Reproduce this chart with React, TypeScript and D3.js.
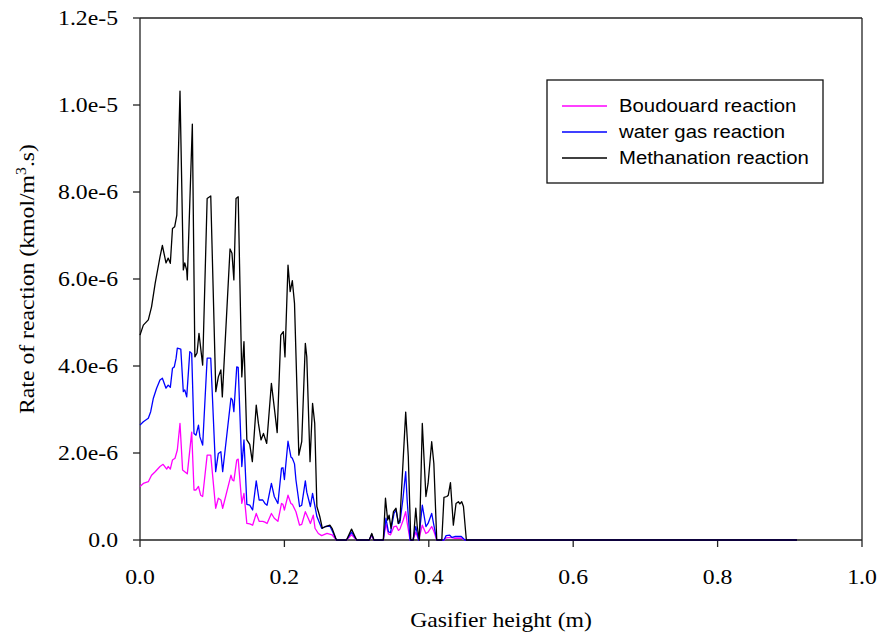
import React from "react";
import * as d3 from "d3";

type P = [number, number];

// x in metres, y in units of 1e-6 kmol/m3.s
const boudouardData: P[] = [
  [0, 1.23], [0.0046, 1.3], [0.0115, 1.34], [0.016, 1.49], [0.021, 1.57], [0.0277, 1.69], [0.032, 1.74],
  [0.037, 1.63], [0.039, 1.69], [0.042, 1.63], [0.045, 1.84], [0.0485, 1.88], [0.0517, 2.07], [0.0554, 2.68],
  [0.059, 1.61], [0.062, 1.57], [0.0655, 1.52], [0.0716, 2.48], [0.0748, 1.15], [0.0776, 1.15], [0.081, 1.23],
  [0.084, 1.03], [0.0868, 1.0], [0.093, 1.95], [0.098, 1.95], [0.1048, 0.73], [0.1085, 0.96], [0.112, 0.92],
  [0.1145, 0.73], [0.126, 1.49], [0.128, 1.38], [0.13, 1.36], [0.134, 1.84], [0.136, 1.86], [0.141, 0.84],
  [0.144, 1.07], [0.148, 0.38], [0.152, 0.37], [0.156, 0.34], [0.161, 0.61], [0.165, 0.43], [0.17, 0.43],
  [0.173, 0.41], [0.176, 0.38], [0.182, 0.61], [0.186, 0.5], [0.191, 0.43], [0.196, 0.84], [0.198, 0.82],
  [0.2, 0.69], [0.205, 1.03], [0.209, 0.84], [0.211, 0.82], [0.216, 0.65], [0.221, 0.34], [0.224, 0.36],
  [0.229, 0.65], [0.233, 0.5], [0.236, 0.38], [0.24, 0.57], [0.2424, 0.27], [0.247, 0.15], [0.2516, 0.1],
  [0.259, 0.15], [0.266, 0.12], [0.272, 0], [0.286, 0], [0.293, 0.12], [0.3, 0], [0.3175, 0], [0.321, 0.1],
  [0.324, 0], [0.337, 0], [0.3407, 0.37], [0.344, 0.14], [0.347, 0.12], [0.3518, 0.31], [0.355, 0.32],
  [0.358, 0.22], [0.36, 0.25], [0.3646, 0.46], [0.368, 0.65], [0.37, 0.4], [0.374, 0], [0.378, 0],
  [0.382, 0.18], [0.386, 0], [0.391, 0.34], [0.396, 0.15], [0.399, 0.18], [0.404, 0.31], [0.407, 0.2],
  [0.411, 0], [0.421, 0], [0.424, 0.05], [0.43, 0.06], [0.436, 0.04], [0.445, 0.04], [0.45, 0], [0.91, 0],
];

const waterGasData: P[] = [
  [0, 2.64], [0.0046, 2.72], [0.0115, 2.8], [0.0148, 2.95], [0.0185, 3.26], [0.023, 3.49], [0.0277, 3.68],
  [0.031, 3.72], [0.036, 3.49], [0.039, 3.56], [0.042, 3.51], [0.045, 3.95], [0.0475, 3.98], [0.05, 4.18],
  [0.0517, 4.41], [0.0565, 4.39], [0.06, 3.41], [0.062, 3.45], [0.0647, 3.29], [0.069, 4.33], [0.0716, 4.29],
  [0.0748, 2.45], [0.0776, 2.41], [0.081, 2.64], [0.083, 2.37], [0.0868, 2.18], [0.093, 4.18], [0.098, 4.18],
  [0.1048, 1.57], [0.1085, 1.99], [0.112, 2.03], [0.1145, 1.57], [0.126, 3.26], [0.128, 3.22], [0.13, 2.95],
  [0.134, 3.98], [0.136, 3.97], [0.141, 1.69], [0.144, 2.3], [0.148, 0.82], [0.152, 0.8], [0.156, 0.69],
  [0.161, 1.36], [0.165, 0.92], [0.17, 0.92], [0.173, 0.84], [0.176, 0.8], [0.182, 1.3], [0.186, 1.0],
  [0.191, 0.84], [0.196, 1.65], [0.198, 1.66], [0.2, 1.39], [0.205, 2.27], [0.209, 1.91], [0.211, 1.88],
  [0.214, 1.75], [0.216, 1.38], [0.221, 0.77], [0.224, 0.8], [0.229, 1.36], [0.231, 1.1], [0.236, 0.77],
  [0.239, 1.07], [0.2424, 0.77], [0.245, 0.54], [0.2516, 0.27], [0.257, 0.31], [0.263, 0.32], [0.266, 0.22],
  [0.272, 0], [0.286, 0], [0.293, 0.18], [0.3, 0], [0.3175, 0], [0.321, 0.13], [0.324, 0], [0.337, 0],
  [0.3407, 0.5], [0.344, 0.19], [0.347, 0.17], [0.3518, 0.61], [0.3546, 0.69], [0.358, 0.38], [0.36, 0.4],
  [0.364, 0.92], [0.368, 1.57], [0.37, 0.92], [0.374, 0], [0.378, 0], [0.382, 0.31], [0.386, 0],
  [0.391, 0.8], [0.396, 0.31], [0.399, 0.38], [0.404, 0.61], [0.407, 0.34], [0.411, 0], [0.421, 0],
  [0.424, 0.1], [0.429, 0.11], [0.432, 0.06], [0.436, 0.08], [0.445, 0.08], [0.45, 0], [0.91, 0],
];

const methanationData: P[] = [
  [0, 4.71], [0.0046, 4.94], [0.0115, 5.06], [0.016, 5.36], [0.021, 5.9], [0.0277, 6.51], [0.031, 6.77],
  [0.036, 6.37], [0.039, 6.48], [0.042, 6.36], [0.045, 7.16], [0.048, 7.2], [0.051, 7.47], [0.0554, 10.32],
  [0.06, 6.21], [0.062, 6.37], [0.0647, 6.2], [0.0655, 5.98], [0.0725, 9.56], [0.076, 4.21], [0.079, 4.3],
  [0.0817, 4.75], [0.0868, 4.02], [0.093, 7.85], [0.098, 7.91], [0.105, 3.41], [0.1085, 3.75], [0.112, 3.91],
  [0.114, 3.29], [0.1247, 6.69], [0.1274, 6.59], [0.13, 5.98], [0.133, 7.85], [0.136, 7.89], [0.141, 3.75],
  [0.144, 4.56], [0.148, 2.3], [0.152, 2.2], [0.1556, 1.8], [0.161, 3.1], [0.164, 2.68], [0.1676, 2.3],
  [0.171, 2.45], [0.1755, 2.22], [0.182, 3.6], [0.187, 2.9], [0.19, 2.47], [0.195, 4.71], [0.1985, 4.79],
  [0.2008, 4.21], [0.205, 6.32], [0.208, 5.71], [0.211, 5.96], [0.214, 5.44], [0.22, 1.95], [0.224, 2.26],
  [0.229, 4.52], [0.231, 4.21], [0.2355, 1.8], [0.239, 3.14], [0.242, 2.68], [0.245, 0.77], [0.249, 0.54],
  [0.2525, 0.27], [0.257, 0.31], [0.263, 0.34], [0.266, 0.27], [0.272, 0], [0.286, 0], [0.293, 0.25],
  [0.3, 0], [0.3175, 0], [0.321, 0.15], [0.324, 0], [0.337, 0], [0.34, 0.96], [0.343, 0.46], [0.345, 0.57],
  [0.3476, 0.27], [0.351, 0.65], [0.3546, 0.73], [0.3577, 0.38], [0.36, 0.46], [0.364, 1.69], [0.368, 2.94],
  [0.3716, 1.92], [0.375, 0], [0.3786, 0], [0.382, 0.73], [0.384, 0.31], [0.387, 0], [0.391, 2.68],
  [0.396, 1.0], [0.399, 1.3], [0.404, 2.26], [0.407, 1.76], [0.411, 0], [0.418, 0], [0.421, 0.98],
  [0.425, 1.0], [0.427, 1.03], [0.43, 1.32], [0.434, 0.34], [0.4377, 0.84], [0.441, 0.88], [0.443, 0.83],
  [0.4456, 0.88], [0.448, 0.77], [0.452, 0], [0.91, 0],
];

const seriesNames = ["Boudouard reaction", "water gas reaction", "Methanation reaction"];
const seriesColors = ["#ff00ff", "#0000ff", "#000000"];
const xTicks = [0, 0.2, 0.4, 0.6, 0.8, 1.0];
const xTickLabels = ["0.0", "0.2", "0.4", "0.6", "0.8", "1.0"];
const yTicks = [0, 2e-6, 4e-6, 6e-6, 8e-6, 1e-5, 1.2e-5];
const yTickLabels = ["0.0", "2.0e-6", "4.0e-6", "6.0e-6", "8.0e-6", "1.0e-5", "1.2e-5"];

const W = 886;
const H = 641;
const M = { left: 140, right: 862, top: 18, bottom: 540 };
const SX = 1.13;
const FS = 21;
const SERIF = "'Liberation Serif', 'Times New Roman', serif";
const SANS = "'Liberation Sans', Arial, sans-serif";

export default function App() {
  const x = d3.scaleLinear().domain([0, 1]).range([M.left, M.right]);
  const y = d3.scaleLinear().domain([0, 1.2e-5]).range([M.bottom, M.top]);
  const line = d3
    .line<P>()
    .x((d) => x(d[0]))
    .y((d) => y(d[1] * 1e-6));
  const all = [boudouardData, waterGasData, methanationData];
  const axisColor = "#222";
  const legendX = 547;
  const legendY = 80;
  return (
    <svg width={W} height={H} style={{ position: "absolute", left: 0, top: 0, background: "#fff" }}>
      {/* frame */}
      <line x1={M.left} x2={M.right} y1={M.top} y2={M.top} stroke={axisColor} strokeWidth={1.3} />
      <line x1={M.right} x2={M.right} y1={M.top} y2={M.bottom} stroke={axisColor} strokeWidth={1.3} />
      <line x1={M.left} x2={M.left} y1={M.top} y2={M.bottom} stroke={axisColor} strokeWidth={1.3} />
      <line x1={M.left} x2={M.right} y1={M.bottom} y2={M.bottom} stroke={axisColor} strokeWidth={1.3} />
      {yTicks.map((t, i) => (
        <g key={"y" + i}>
          <line x1={M.left - 7} x2={M.left} y1={y(t)} y2={y(t)} stroke={axisColor} strokeWidth={1.3} />
          <text
            transform={`translate(${M.left - 22},${y(t) + 7}) scale(${SX},1)`}
            textAnchor="end"
            fontFamily={SERIF}
            fontSize={FS}
            fill="#000"
          >
            {yTickLabels[i]}
          </text>
        </g>
      ))}
      {xTicks.map((t, i) => (
        <g key={"x" + i}>
          <line x1={x(t)} x2={x(t)} y1={M.bottom} y2={M.bottom + 7} stroke={axisColor} strokeWidth={1.3} />
          <text
            transform={`translate(${x(t)},${M.bottom + 44}) scale(${SX},1)`}
            textAnchor="middle"
            fontFamily={SERIF}
            fontSize={FS}
            fill="#000"
          >
            {xTickLabels[i]}
          </text>
        </g>
      ))}
      <text
        transform={`translate(${(M.left + M.right) / 2},${627}) scale(${SX},1)`}
        textAnchor="middle"
        fontFamily={SERIF}
        fontSize={FS}
        fill="#000"
      >
        Gasifier height (m)
      </text>
      <text
        transform={`translate(34,${(M.top + M.bottom) / 2}) rotate(-90) scale(${SX},1)`}
        textAnchor="middle"
        fontFamily={SERIF}
        fontSize={FS}
        fill="#000"
      >
        Rate of reaction (kmol/m<tspan dy={-8} fontSize={14}>3</tspan>
        <tspan dy={8}>.s)</tspan>
      </text>
      {/* series */}
      {all.map((data, i) => (
        <path key={"s" + i} d={line(data) || ""} fill="none" stroke={seriesColors[i]} strokeWidth={1.3} strokeLinejoin="round" />
      ))}
      {/* legend */}
      <rect x={legendX} y={legendY} width={276} height={103} fill="#fff" stroke="#111" strokeWidth={1.3} />
      {seriesNames.map((n, i) => (
        <g key={"l" + i}>
          <line
            x1={legendX + 15}
            x2={legendX + 60}
            y1={legendY + 26 + i * 26}
            y2={legendY + 26 + i * 26}
            stroke={seriesColors[i]}
            strokeWidth={1.3}
          />
          <text
            transform={`translate(${legendX + 72},${legendY + 32 + i * 26}) scale(${SX},1)`}
            fontFamily={SANS}
            fontSize={18}
            fill="#000"
          >
            {n}
          </text>
        </g>
      ))}
    </svg>
  );
}
